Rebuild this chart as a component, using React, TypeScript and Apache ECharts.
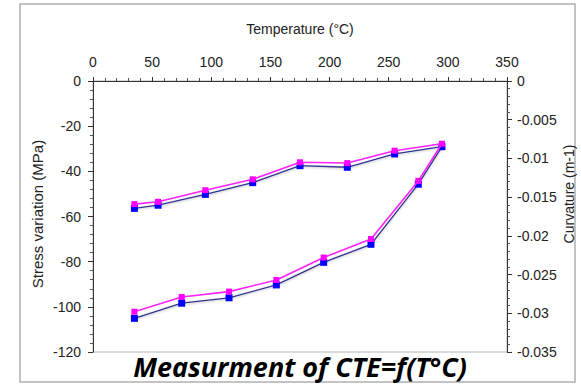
import React, { useEffect, useRef } from "react";
import * as echarts from "echarts";

const temperatureTicks = [0, 50, 100, 150, 200, 250, 300, 350];
const stressTicks = [-120, -100, -80, -60, -40, -20, 0];
const curvatureTicks = [-0.035, -0.03, -0.025, -0.02, -0.015, -0.01, -0.005, 0];

// heating branch then cooling branch
const temperatures = [35, 75, 115, 155, 195, 235, 275, 295, 255, 215, 175, 135, 95, 55, 35];
const stressValues = [-105.1, -98.4, -96.0, -90.3, -80.3, -72.3, -45.7, -29.1, -32.3, -38.2, -37.5, -45.0, -50.2, -55.0, -56.4];
const curvatureValues = [-0.0298, -0.0279, -0.0272, -0.0257, -0.0228, -0.0204, -0.0129, -0.0081, -0.009, -0.0106, -0.0105, -0.0127, -0.0141, -0.0156, -0.0159];

const xTitle = "Temperature (°C)";
const leftTitle = "Stress variation (MPa)";
const rightTitle = "Curvature (m-1)";
const chartTitle = "Measurment of CTE=f(T°C)";

export default function App() {
  const ref = useRef<HTMLDivElement>(null);
  useEffect(() => {
    if (!ref.current) return;
    const chart = echarts.init(ref.current, null, { renderer: "svg" });
    const font = '"Liberation Sans", Arial, sans-serif';
    const axisColor = "#333";
    const labelStyle = { color: "#222", fontSize: 14, fontFamily: font };
    chart.setOption({
      animation: false,
      backgroundColor: "#fff",
      grid: {
        left: 93,
        top: 81,
        right: 74,
        bottom: 32,
        show: true,
        borderColor: "#b5b5b5",
        borderWidth: 1,
        backgroundColor: "transparent",
      },
      xAxis: {
        type: "value",
        position: "top",
        min: temperatureTicks[0],
        max: temperatureTicks[temperatureTicks.length - 1],
        interval: temperatureTicks[1] - temperatureTicks[0],
        axisLine: { show: true, lineStyle: { color: axisColor, width: 1 } },
        axisTick: { show: true, length: 4, lineStyle: { color: axisColor } },
        minorTick: { show: true, splitNumber: 5, length: 3, lineStyle: { color: "#555" } },
        splitLine: { show: false },
        axisLabel: { ...labelStyle, margin: 12 },
      },
      yAxis: [
        {
          type: "value",
          position: "left",
          min: stressTicks[0],
          max: stressTicks[stressTicks.length - 1],
          interval: stressTicks[1] - stressTicks[0],
          axisLine: { show: true, lineStyle: { color: axisColor, width: 1 } },
          axisTick: { show: true, length: 5, lineStyle: { color: axisColor } },
          minorTick: { show: true, splitNumber: 5, length: 3, lineStyle: { color: "#555" } },
          splitLine: { show: false },
          axisLabel: { ...labelStyle, margin: 12 },
        },
        {
          type: "value",
          position: "right",
          min: curvatureTicks[0],
          max: curvatureTicks[curvatureTicks.length - 1],
          interval: 0.005,
          axisLine: { show: true, lineStyle: { color: axisColor, width: 1 } },
          axisTick: { show: true, length: 5, lineStyle: { color: axisColor } },
          minorTick: { show: true, splitNumber: 5, length: 3, lineStyle: { color: "#555" } },
          splitLine: { show: false },
          axisLabel: { ...labelStyle, margin: 10 },
        },
      ],
      series: [
        {
          type: "line",
          name: "Stress",
          yAxisIndex: 0,
          data: temperatures.map((t, i) => [t, stressValues[i]]),
          lineStyle: { color: "#33338f", width: 1.3, shadowColor: "rgba(0,0,0,0.25)", shadowBlur: 2, shadowOffsetY: 1 },
          itemStyle: { color: "#0000ff" },
          symbol: "rect",
          symbolSize: 7,
          z: 2,
        },
        {
          type: "line",
          name: "Curvature",
          yAxisIndex: 1,
          data: temperatures.map((t, i) => [t, curvatureValues[i]]),
          lineStyle: { color: "#ff22ff", width: 1.6 },
          itemStyle: { color: "#ff00ff" },
          symbol: "rect",
          symbolSize: 6,
          z: 3,
        },
      ],
      graphic: [
        {
          type: "rect",
          shape: { x: 20, y: 4, width: 555, height: 378 },
          style: { fill: "none", stroke: "#b0b0b0", lineWidth: 1.5 },
          silent: true,
          z: -1,
        },
        {
          type: "text",
          x: 300,
          y: 29,
          style: { text: xTitle, fill: "#222", font: `14px ${font}`, align: "center", verticalAlign: "middle" },
        },
        {
          type: "text",
          x: 37,
          y: 214,
          rotation: Math.PI / 2,
          style: { text: leftTitle, fill: "#222", font: `15px ${font}`, align: "center", verticalAlign: "middle" },
        },
        {
          type: "text",
          x: 569,
          y: 194,
          rotation: Math.PI / 2,
          style: { text: rightTitle, fill: "#222", font: `14px ${font}`, align: "center", verticalAlign: "middle" },
        },
        {
          type: "text",
          x: 300,
          y: 366,
          style: {
            text: chartTitle,
            fill: "#000",
            font: `italic bold 27px "Open Sans", sans-serif`,
            align: "center",
            verticalAlign: "middle",
          },
        },
      ],
    });
    return () => chart.dispose();
  }, []);
  return (
    <div
      ref={ref}
      style={{ position: "absolute", left: 0, top: 0, width: 581, height: 384 }}
    />
  );
}
